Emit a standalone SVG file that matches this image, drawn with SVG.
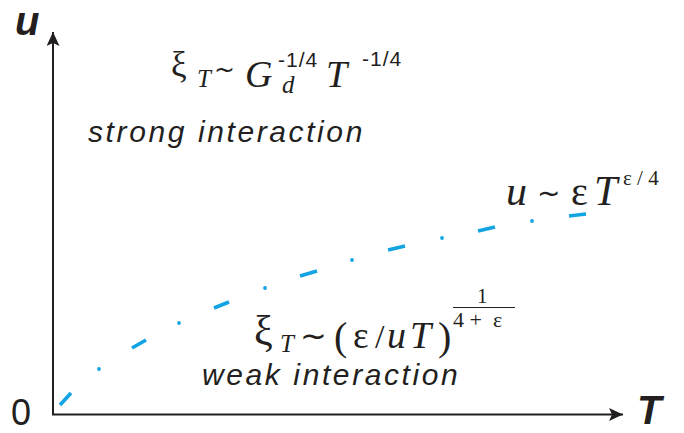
<svg xmlns="http://www.w3.org/2000/svg" width="684" height="433" viewBox="0 0 684 433">
<style>
.ax{stroke:#231f20;stroke-width:2;fill:none}
.cv{stroke:#12a4e2;stroke-width:3.6;stroke-linecap:butt;fill:none}
.dot{fill:#12a4e2}
.lab{font-family:"Liberation Sans",Arial,sans-serif;fill:#231f20}
.axl{font-family:"Liberation Sans",Arial,sans-serif;font-weight:bold;font-style:italic;font-size:40px;fill:#231f20}
.txt{font-family:"Liberation Sans",Arial,sans-serif;font-style:italic;font-size:30px;letter-spacing:2.6px;fill:#231f20}
.m{font-family:"Liberation Serif","Times New Roman",serif;fill:#231f20}
.i{font-style:italic}
.s{font-family:"Liberation Sans",Arial,sans-serif;fill:#231f20}
.tl{font-family:"DejaVu Sans",sans-serif;fill:#231f20}
</style>
<defs>
<marker id="arr" viewBox="0 0 14 13" refX="14" refY="6.5" markerWidth="14" markerHeight="13" markerUnits="userSpaceOnUse" orient="auto">
<path d="M0,0 L14,6.5 L0,13 L3,6.5 z" fill="#231f20"/>
</marker>
</defs>
<rect width="684" height="433" fill="#fff"/>
<g id="axes">
<line class="ax" x1="53" y1="415" x2="53" y2="32" marker-end="url(#arr)"/>
<line class="ax" x1="52" y1="414.5" x2="623" y2="414.5" marker-end="url(#arr)"/>
</g>
<g id="axis-labels">
<text class="axl" x="15" y="35" font-size="38">u</text>
<text class="axl" x="637" y="424" font-size="38">T</text>
<text class="lab" x="11" y="425" font-size="36">0</text>
</g>
<g id="curve">
<line class="cv" x1="60" y1="405" x2="71" y2="393"/>
<line class="cv" x1="132" y1="348" x2="146" y2="340"/>
<line class="cv" x1="214" y1="308" x2="229" y2="302"/>
<line class="cv" x1="300" y1="276" x2="317" y2="271"/>
<line class="cv" x1="388" y1="250" x2="405" y2="246"/>
<line class="cv" x1="478" y1="231" x2="495" y2="227"/>
<line class="cv" x1="569" y1="216" x2="586" y2="214"/>
<circle class="dot" cx="99" cy="369" r="1.9"/>
<circle class="dot" cx="179" cy="323" r="1.9"/>
<circle class="dot" cx="265" cy="288" r="1.9"/>
<circle class="dot" cx="352" cy="260" r="1.9"/>
<circle class="dot" cx="442" cy="238" r="1.9"/>
<circle class="dot" cx="532" cy="221" r="1.9"/>
</g>
<g id="strong-formula">
<text class="m" x="171" y="76" font-size="35">ξ</text>
<text class="m i" x="197" y="87" font-size="25">T</text>
<text class="tl" x="214" y="78" font-size="25">~</text>
<text class="m i" x="245" y="87" font-size="38">G</text>
<text class="s" x="278" y="67" font-size="21" letter-spacing="1">-1/4</text>
<text class="m i" x="282" y="93" font-size="25">d</text>
<text class="m i" x="326" y="87" font-size="38">T</text>
<text class="s" x="362" y="66" font-size="21" letter-spacing="1">-1/4</text>
</g>
<g id="strong-label">
<text class="txt" x="88" y="142">strong interaction</text>
</g>
<g id="mid-formula">
<text class="m i" x="506" y="205" font-size="42">u</text>
<text class="tl" x="537" y="203" font-size="28">~</text>
<text class="m" x="571" y="205" font-size="40">ε</text>
<text class="m i" x="594" y="205" font-size="42">T</text>
<text class="m" x="623" y="185" font-size="21" xml:space="preserve">ε / 4</text>
</g>
<g id="weak-formula">
<text class="m" x="254" y="345" font-size="42">ξ</text>
<text class="m i" x="280" y="352" font-size="25">T</text>
<text class="tl" x="300" y="347" font-size="32">~</text>
<text class="m" x="334" y="350" font-size="40">(</text>
<text class="m" x="353" y="348" font-size="37">ε</text>
<text class="m" x="375" y="348" font-size="34">/</text>
<text class="m i" x="387" y="348" font-size="38">u</text>
<text class="m i" x="410" y="348" font-size="38">T</text>
<text class="m" x="438" y="350" font-size="40">)</text>
<text class="m" x="477" y="303" font-size="21">1</text>
<line x1="453" y1="307.5" x2="515" y2="307.5" stroke="#231f20" stroke-width="1.2"/>
<text class="m" x="453" y="327" font-size="22" xml:space="preserve">4 +  ε</text>
</g>
<g id="weak-label">
<text class="txt" x="202" y="385">weak interaction</text>
</g>
</svg>
